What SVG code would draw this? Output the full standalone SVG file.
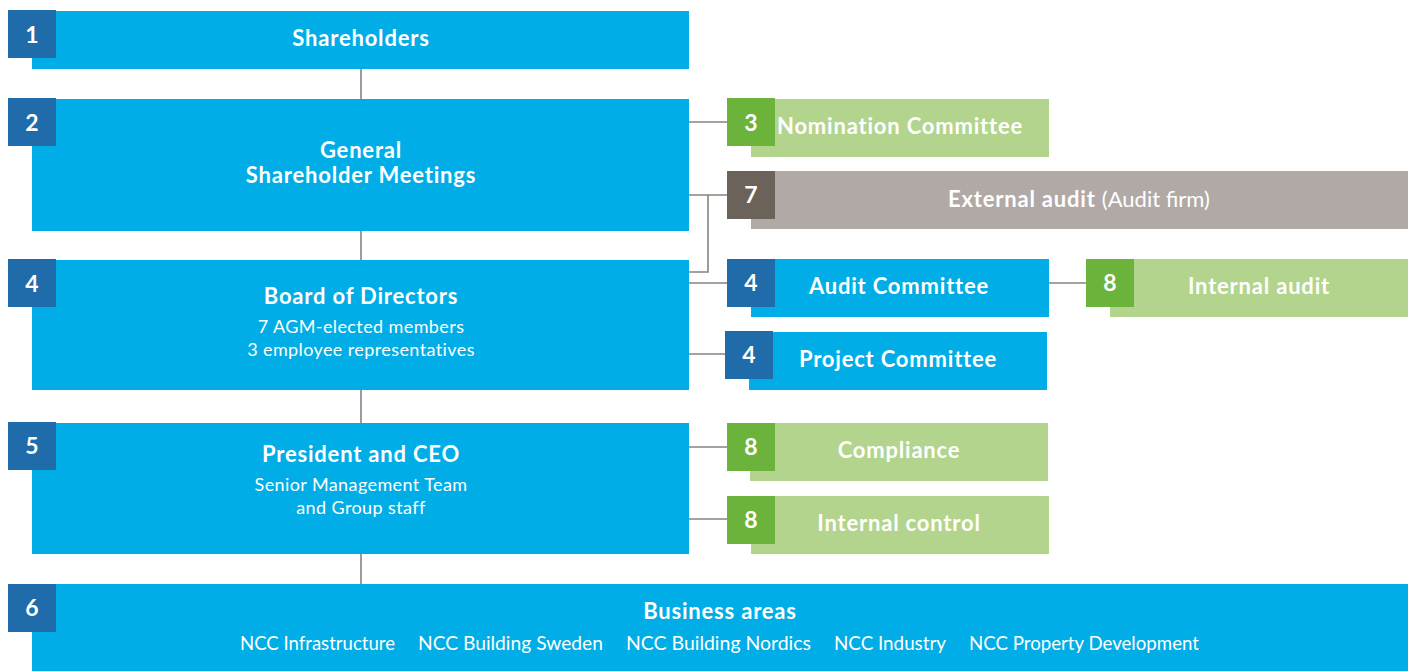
<svg xmlns="http://www.w3.org/2000/svg" width="1413" height="671" viewBox="0 0 1413 671">
<style>
.main{fill:#00ADE6}
.bdg{fill:#206BA9}
.gbdg{fill:#6CB33B}
.lg{fill:#B3D48C}
.gray{fill:#B1A9A5}
.dgray{fill:#6B6259}
.num{font-family:Lato,"Noto Sans",sans-serif;font-weight:700;font-size:23px;fill:#fff;text-anchor:middle}
.t{font-family:Lato,"Noto Sans",sans-serif;font-weight:700;font-size:22px;letter-spacing:0.8px;fill:#fff;text-anchor:middle}
.s{font-family:Lato,"Noto Sans",sans-serif;font-weight:400;font-size:18px;letter-spacing:0.4px;fill:#fff;text-anchor:middle}
.c{font-family:Lato,"Noto Sans",sans-serif;font-weight:400;font-size:19px;fill:#fff}
.ln{stroke:#8A827C;stroke-width:1.6;fill:none}
</style>
<g id="connectors">
<path class="ln" d="M361,69V99M361,231V260M361,390V423M361,554V584"/>
<path class="ln" d="M689,122H727M689,195H727M689,272H708V195M689,283H727M1049,283H1086M689,354H725M689,447H727M689,519H727"/>
</g>
<g id="n1">
<rect class="main" x="32" y="11" width="657" height="58"/>
<rect class="bdg" x="8" y="10" width="48" height="48"/>
<text class="num" x="32" y="43">1</text>
<text class="t" x="361" y="46">Shareholders</text>
</g>
<g id="n2">
<rect class="main" x="32" y="99" width="657" height="132"/>
<rect class="bdg" x="8" y="98" width="48" height="48"/>
<text class="num" x="32" y="131">2</text>
<text class="t" x="361" y="158">General</text>
<text class="t" x="361" y="183">Shareholder Meetings</text>
</g>
<g id="n4board">
<rect class="main" x="32" y="260" width="657" height="130"/>
<rect class="bdg" x="8" y="259" width="48" height="48"/>
<text class="num" x="32" y="292">4</text>
<text class="t" x="361" y="304">Board of Directors</text>
<text class="s" x="361" y="333">7 AGM-elected members</text>
<text class="s" x="361" y="356">3 employee representatives</text>
</g>
<g id="n5">
<rect class="main" x="32" y="423" width="657" height="131"/>
<rect class="bdg" x="8" y="422" width="48" height="48"/>
<text class="num" x="32" y="454">5</text>
<text class="t" x="361" y="462">President and CEO</text>
<text class="s" x="361" y="491">Senior Management Team</text>
<text class="s" x="361" y="514">and Group staff</text>
</g>
<g id="n6">
<rect class="main" x="32" y="584" width="1376" height="87"/>
<rect class="bdg" x="8" y="584" width="48" height="48"/>
<text class="num" x="32" y="616">6</text>
<text class="t" x="720" y="619">Business areas</text>
<text class="c" x="240" y="650" textLength="155" lengthAdjust="spacingAndGlyphs">NCC Infrastructure</text>
<text class="c" x="418" y="650" textLength="185" lengthAdjust="spacingAndGlyphs">NCC Building Sweden</text>
<text class="c" x="626" y="650" textLength="185" lengthAdjust="spacingAndGlyphs">NCC Building Nordics</text>
<text class="c" x="834" y="650" textLength="112" lengthAdjust="spacingAndGlyphs">NCC Industry</text>
<text class="c" x="969" y="650" textLength="230" lengthAdjust="spacingAndGlyphs">NCC Property Development</text>
</g>
<g id="n3">
<rect class="lg" x="751" y="99" width="298" height="58"/>
<rect class="gbdg" x="727" y="98" width="48" height="48"/>
<text class="num" x="751" y="131">3</text>
<text class="t" x="900" y="134">Nomination Committee</text>
</g>
<g id="n7">
<rect class="gray" x="751" y="171" width="657" height="58"/>
<rect class="dgray" x="727" y="171" width="48" height="48"/>
<text class="num" x="751" y="203">7</text>
<text class="t" x="1079" y="207" letter-spacing="0.4px">External audit <tspan font-weight="400" letter-spacing="0px">(Audit firm)</tspan></text>
</g>
<g id="n4audit">
<rect class="main" x="751" y="259" width="298" height="58"/>
<rect class="bdg" x="727" y="259" width="48" height="48"/>
<text class="num" x="751" y="291">4</text>
<text class="t" x="899" y="294">Audit Committee</text>
</g>
<g id="n8internalaudit">
<rect class="lg" x="1110" y="259" width="298" height="58"/>
<rect class="gbdg" x="1086" y="259" width="48" height="48"/>
<text class="num" x="1110" y="291">8</text>
<text class="t" x="1259" y="294">Internal audit</text>
</g>
<g id="n4project">
<rect class="main" x="749" y="332" width="298" height="58"/>
<rect class="bdg" x="725" y="331" width="48" height="48"/>
<text class="num" x="749" y="363">4</text>
<text class="t" x="898" y="367">Project Committee</text>
</g>
<g id="n8compliance">
<rect class="lg" x="750" y="423" width="298" height="58"/>
<rect class="gbdg" x="727" y="423" width="48" height="48"/>
<text class="num" x="751" y="455">8</text>
<text class="t" x="899" y="458">Compliance</text>
</g>
<g id="n8control">
<rect class="lg" x="751" y="496" width="298" height="58"/>
<rect class="gbdg" x="727" y="496" width="48" height="48"/>
<text class="num" x="751" y="528">8</text>
<text class="t" x="899" y="531">Internal control</text>
</g>
</svg>
